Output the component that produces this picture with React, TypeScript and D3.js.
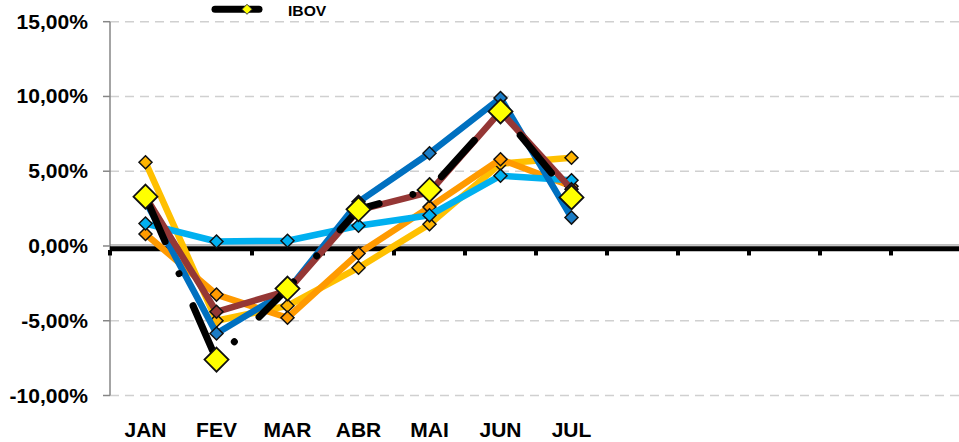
import React from "react";
import * as d3 from "d3";

const months = ["JAN", "FEV", "MAR", "ABR", "MAI", "JUN", "JUL", "", "", "", "", ""];
const yTicks = [-10, -5, 0, 5, 10, 15];

const goldSeries = [5.6, -5.0, -4.0, -1.45, 1.45, 5.5, 5.9];
const orangeSeries = [0.8, -3.25, -4.8, -0.5, 2.6, 5.8, 4.0];
const lightBlueSeries = [1.5, 0.3, 0.35, 1.35, 2.05, 4.7, 4.4];
const darkBlueSeries = [3.0, -5.85, -3.0, 2.95, 6.2, 9.9, 1.9];
const brownSeries = [3.3, -4.4, -3.0, 2.4, 3.6, 9.0, 3.8];
const ibovSeries = [3.3, -7.6, -2.85, 2.45, 3.75, 9.0, 3.25];

const W = 959;
const H = 442;

const x = d3.scaleBand<number>().domain(d3.range(months.length)).range([110, 962]).padding(0);
const y = d3.scaleLinear().domain([-10, 15]).range([395.5, 21.7]);

const fmt = (v: number) => d3.format(".2f")(v).replace(".", ",").replace("−", "-") + "%";

const line = d3
  .line<number>()
  .x((_, i) => (x(i) as number) + x.bandwidth() / 2)
  .y((d) => y(d));

const diamond = (cx: number, cy: number, r: number) =>
  `M${cx},${cy - r}L${cx + r},${cy}L${cx},${cy + r}L${cx - r},${cy}Z`;

type S = { data: number[]; color: string; marker: string; r: number };
const plain: S[] = [
  { data: goldSeries, color: "#FFC000", marker: "#FFB400", r: 6.5 },
  { data: orangeSeries, color: "#FF9A00", marker: "#FF9A00", r: 6.5 },
  { data: lightBlueSeries, color: "#00B0F0", marker: "#00B0F0", r: 6.5 },
  { data: darkBlueSeries, color: "#0070C0", marker: "#1A7CC6", r: 6.5 },
  { data: brownSeries, color: "#953735", marker: "#953735", r: 6.5 },
];

export default function App() {
  const cx = (i: number) => (x(i) as number) + x.bandwidth() / 2;
  return (
    <svg width={W} height={H} style={{ position: "absolute", left: 0, top: 0 }}>
      <rect width={W} height={H} fill="#ffffff" />
      {/* gridlines */}
      {yTicks
        .filter((t) => t !== 0)
        .map((t) => (
          <line
            key={t}
            x1={110}
            x2={W}
            y1={y(t)}
            y2={y(t)}
            stroke="#D0D0D0"
            strokeWidth={1.5}
            strokeDasharray="9 6"
          />
        ))}
      {/* y axis */}
      <line x1={110} x2={110} y1={y(15)} y2={y(-10)} stroke="#868686" strokeWidth={1.5} />
      {yTicks.map((t) => (
        <line key={t} x1={103} x2={110} y1={y(t)} y2={y(t)} stroke="#868686" strokeWidth={1.5} />
      ))}
      {yTicks.map((t) => (
        <g key={t} transform={`translate(88,${y(t) + 7}) scale(1.08,1)`}>
          <text
            textAnchor="end"
            fontFamily="Liberation Sans, Arial, sans-serif"
            fontWeight="bold"
            fontSize={19.5}
            fill="#000"
          >
            {fmt(t)}
          </text>
        </g>
      ))}
      {/* x axis */}
      <line x1={110} x2={W} y1={y(0) - 1} y2={y(0) - 1} stroke="#868686" strokeWidth={1} />
      <line x1={110} x2={W} y1={y(0) + 2.8} y2={y(0) + 2.8} stroke="#000" strokeWidth={5} />
      {d3.range(months.length + 1).map((i) => (
        <line
          key={i}
          x1={110 + i * x.bandwidth()}
          x2={110 + i * x.bandwidth()}
          y1={y(0) + 4}
          y2={y(0) + 9.5}
          stroke="#000"
          strokeWidth={4}
        />
      ))}
      {months.map((m, i) =>
        m ? (
          <text
            key={i}
            x={cx(i)}
            y={436.5}
            textAnchor="middle"
            fontFamily="Liberation Sans, Arial, sans-serif"
            fontWeight="bold"
            fontSize={21}
            fill="#000"
          >
            {m}
          </text>
        ) : null
      )}
      {/* series */}
      {plain.map((s, k) => (
        <g key={k}>
          <path d={line(s.data) || ""} fill="none" stroke={s.color} strokeWidth={6.5} strokeLinejoin="round" />
          {s.data.map((v, i) => (
            <path key={i} d={diamond(cx(i), y(v), s.r)} fill={s.marker} stroke="#111" strokeWidth={1.5} />
          ))}
        </g>
      ))}
      <g>
        <path
          d={line(ibovSeries) || ""}
          fill="none"
          stroke="#000"
          strokeWidth={7}
          strokeLinecap="round"
          strokeLinejoin="round"
          strokeDasharray="49 35 0.001 35"
        />
        {ibovSeries.map((v, i) => (
          <path key={i} d={diamond(cx(i), y(v), 12)} fill="#FFFF00" stroke="#111" strokeWidth={1.8} />
        ))}
      </g>
      {/* legend */}
      <line x1={215} x2={259} y1={9.3} y2={9.3} stroke="#000" strokeWidth={7} strokeLinecap="round" />
      <path d={diamond(247, 9.3, 5)} fill="#FFFF00" stroke="#333" strokeWidth={1} />
      <g transform="translate(288,15.5) scale(1.12,1)">
        <text fontFamily="Liberation Sans, Arial, sans-serif" fontWeight="bold" fontSize={14} fill="#000">
          IBOV
        </text>
      </g>
    </svg>
  );
}
